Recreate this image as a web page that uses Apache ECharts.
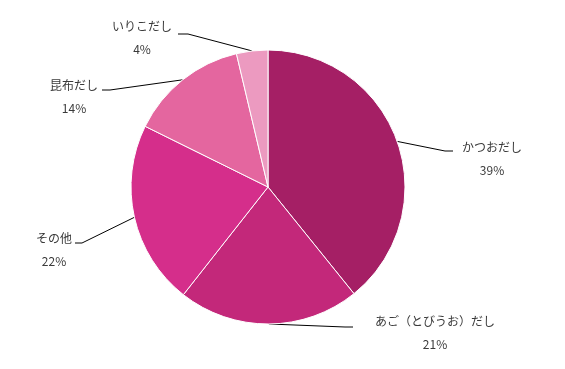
<!DOCTYPE html>
<html>
<head>
<meta charset="utf-8">
<script src="https://cdn.jsdelivr.net/npm/echarts@6/dist/echarts.min.js"></script>
<style>html,body{margin:0;padding:0;background:#fff;}#c{width:565px;height:369px;}</style>
</head>
<body>
<div id="c"></div>
<script>
const categories = ['かつおだし', 'あご（とびうお）だし', 'その他', '昆布だし', 'いりこだし'];
const values = [39.2, 21.4, 21.7, 14.0, 3.7];
const colors = ['#A51F65', '#C3287A', '#D52E8B', '#E4669F', '#EC9AC0'];

// label placement (center x, middle y) and leader-line bend/end points
const labelPos = [[492, 158.5], [435, 332.5], [54, 249.5], [74, 96.5], [142, 38]];
const lineBends = [
  [[445, 151], [453, 151]],
  [[345, 327], [353, 327]],
  [[82, 243], [75, 243]],
  [[110, 90], [102, 90]],
  [[188, 34], [178, 34]]
];

const chart = echarts.init(document.getElementById('c'), null, {renderer: 'canvas'});
chart.setOption({
  animation: false,
  backgroundColor: '#ffffff',
  series: [{
    type: 'pie',
    center: [268, 187],
    radius: 137,
    startAngle: 90,
    clockwise: true,
    avoidLabelOverlap: false,
    percentPrecision: 0,
    data: categories.map((c, i) => ({name: c, value: values[i], itemStyle: {color: colors[i]}})),
    itemStyle: {borderColor: '#ffffff', borderWidth: 1},
    emphasis: {disabled: true},
    label: {
      show: true,
      formatter: '{b}\n{d}%',
      fontFamily: 'Noto Sans CJK JP',
      fontSize: 12,
      lineHeight: 23,
      color: '#3a3a3a',
      align: 'center'
    },
    labelLine: {
      show: true,
      length: 10,
      length2: 10,
      lineStyle: {color: '#000000', width: 1}
    },
    labelLayout: function (params) {
      const i = params.dataIndex;
      const p0 = params.labelLinePoints ? params.labelLinePoints[0] : lineBends[i][0];
      return {
        x: labelPos[i][0],
        y: labelPos[i][1],
        align: 'center',
        verticalAlign: 'middle',
        labelLinePoints: [p0, lineBends[i][0], lineBends[i][1]]
      };
    }
  }]
});
</script>
</body>
</html>
